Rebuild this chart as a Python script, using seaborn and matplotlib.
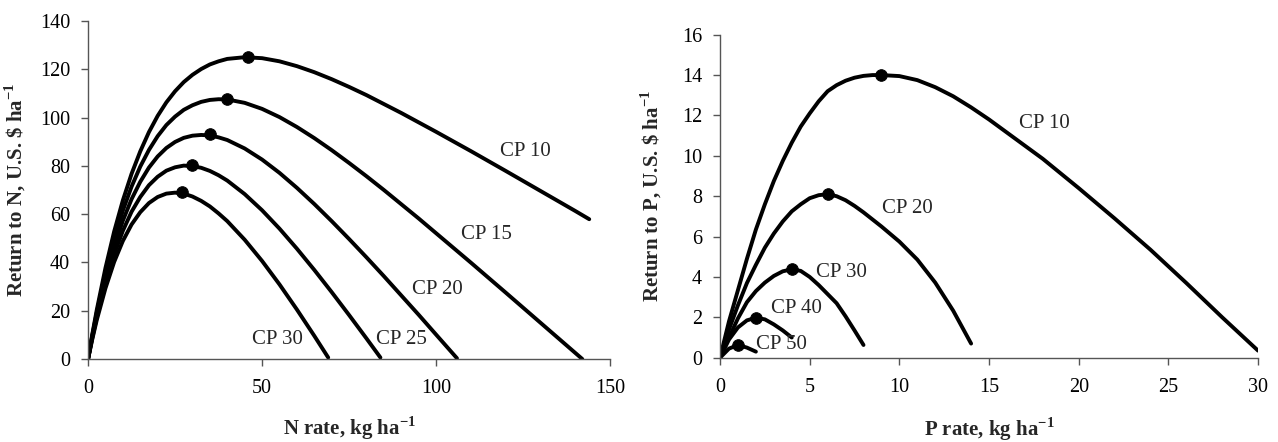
import matplotlib
matplotlib.use('Agg')
import matplotlib.pyplot as plt
import seaborn as sns
import pandas as pd

# N panel: return to N (U.S. $/ha) by N rate (kg/ha), one curve per CP
n_labels = ['CP 10', 'CP 15', 'CP 20', 'CP 25', 'CP 30']
n_rate = {
    'CP 10': [0, 1.25, 2.5, 5, 7.5, 10, 12.5, 15, 17.5, 20, 22.5, 25, 27.5, 30, 32.5, 35, 37.5, 40, 45, 50, 55, 60, 65, 70, 75, 80, 90, 100, 110, 120, 130, 140, 144],
    'CP 15': [0, 1.25, 2.5, 5, 7.5, 10, 12.5, 15, 17.5, 20, 22.5, 25, 27.5, 30, 32.5, 35, 37.5, 40, 45, 50, 55, 60, 65, 70, 75, 80, 85, 90, 95, 100, 110, 120, 130, 140, 142],
    'CP 20': [0, 1.25, 2.5, 5, 7.5, 10, 12.5, 15, 17.5, 20, 22.5, 25, 27.5, 30, 32.5, 35, 37.5, 40, 45, 50, 55, 60, 65, 70, 75, 80, 85, 90, 95, 100, 106],
    'CP 25': [0, 1.25, 2.5, 5, 7.5, 10, 12.5, 15, 17.5, 20, 22.5, 25, 27.5, 30, 32.5, 35, 37.5, 40, 45, 50, 55, 60, 65, 70, 75, 80, 84],
    'CP 30': [0, 1.25, 2.5, 5, 7.5, 10, 12.5, 15, 17.5, 20, 22.5, 25, 27.5, 30, 32.5, 35, 37.5, 40, 45, 50, 55, 60, 65, 69],
}
n_return = {
    'CP 10': [0, 10.5, 20.3, 37.7, 52.8, 65.7, 76.7, 86.0, 94.0, 100.7, 106.3, 110.9, 114.7, 117.7, 120.1, 122.0, 123.3, 124.3, 125.0, 124.6, 123.3, 121.3, 118.8, 115.9, 112.7, 109.3, 101.9, 94.1, 86.1, 77.9, 69.6, 61.3, 57.9],
    'CP 15': [0, 10.0, 19.2, 35.6, 49.6, 61.5, 71.4, 79.7, 86.6, 92.3, 96.9, 100.4, 103.2, 105.1, 106.5, 107.3, 107.6, 107.5, 106.1, 103.6, 100.2, 96.1, 91.5, 86.5, 81.2, 75.7, 70.0, 64.1, 58.2, 52.1, 39.9, 27.5, 15.0, 2.5, 0.0],
    'CP 20': [0, 9.5, 18.2, 33.5, 46.5, 57.3, 66.2, 73.4, 79.3, 83.9, 87.4, 89.9, 91.6, 92.5, 92.8, 92.6, 91.8, 90.7, 87.2, 82.6, 77.1, 70.9, 64.2, 57.1, 49.7, 42.1, 34.3, 26.3, 18.3, 10.1, 0.3],
    'CP 25': [0, 8.9, 17.2, 31.4, 43.4, 53.1, 61.0, 67.1, 72.0, 75.5, 78.0, 79.4, 80.1, 79.9, 79.2, 77.9, 76.1, 73.9, 68.3, 61.6, 54.0, 45.7, 36.9, 27.7, 18.2, 8.5, 0.6],
    'CP 30': [0, 8.4, 16.1, 29.3, 40.2, 48.9, 55.7, 60.8, 64.6, 67.1, 68.5, 68.9, 68.5, 67.3, 65.5, 63.2, 60.3, 57.1, 49.4, 40.6, 30.9, 20.5, 9.6, 0.6],
}
n_opt_rate = [46, 40, 35, 30, 27]
n_opt_return = [125, 107.5, 93, 80.5, 69]

# P panel: return to P (U.S. $/ha) by P rate (kg/ha)
p_labels = ['CP 10', 'CP 20', 'CP 30', 'CP 40', 'CP 50']
p_rate = {
    'CP 10': [0, 0.5, 1, 1.5, 2, 2.5, 3, 3.5, 4, 4.5, 5, 5.5, 6, 6.5, 7, 7.5, 8, 8.5, 9, 10, 11, 12, 13, 14, 15, 16, 18, 20, 22, 24, 26, 28, 30],
    'CP 20': [0, 0.5, 1, 1.5, 2, 2.5, 3, 3.5, 4, 4.5, 5, 5.5, 6, 6.5, 7, 7.5, 8, 9, 10, 11, 12, 13, 14],
    'CP 30': [0, 0.5, 1, 1.5, 2, 2.5, 3, 3.5, 4, 4.5, 5, 5.5, 6, 6.5, 7, 7.5, 8],
    'CP 40': [0, 0.5, 1, 1.5, 2, 2.5, 3, 3.5, 4],
    'CP 50': [0, 0.5, 1, 1.5, 2],
}
p_return = {
    'CP 10': [0, 1.8, 3.35, 4.9, 6.35, 7.6, 8.75, 9.75, 10.65, 11.45, 12.1, 12.7, 13.2, 13.5, 13.72, 13.87, 13.96, 14.0, 14.0, 13.95, 13.75, 13.4, 12.95, 12.4, 11.8, 11.15, 9.85, 8.4, 6.9, 5.35, 3.7, 2.0, 0.35],
    'CP 20': [0, 1.4, 2.6, 3.7, 4.6, 5.45, 6.15, 6.75, 7.25, 7.6, 7.9, 8.05, 8.1, 8.0, 7.8, 7.52, 7.2, 6.5, 5.75, 4.86, 3.72, 2.33, 0.7],
    'CP 30': [0, 1.0, 1.95, 2.75, 3.3, 3.72, 4.05, 4.28, 4.38, 4.3, 4.0, 3.6, 3.15, 2.7, 2.05, 1.35, 0.63],
    'CP 40': [0, 0.9, 1.5, 1.85, 1.98, 1.9, 1.65, 1.35, 1.0],
    'CP 50': [0, 0.45, 0.63, 0.5, 0.3],
}
p_opt_rate = [9, 6, 4, 2, 1]
p_opt_return = [14.0, 8.1, 4.38, 1.98, 0.63]


def long_df(rates, returns, labels):
    frames = [pd.DataFrame({'rate': rates[k], 'ret': returns[k], 'cp': k}) for k in labels]
    return pd.concat(frames, ignore_index=True)


sns.set_style('white')
plt.rcParams['font.family'] = ['Liberation Serif', 'DejaVu Serif']
plt.rcParams['mathtext.fontset'] = 'custom'
plt.rcParams['mathtext.rm'] = 'Liberation Serif'
plt.rcParams['mathtext.bf'] = 'Liberation Serif:bold'
plt.rcParams['lines.solid_joinstyle'] = 'round'
plt.rcParams['lines.solid_capstyle'] = 'round'

fig = plt.figure(figsize=(12.78, 4.42), dpi=100)
ax1 = fig.add_axes([0.0689, 0.1878, 0.4085, 0.7647])
ax2 = fig.add_axes([0.5634, 0.1907, 0.4210, 0.7308])

lw = 2.8
ms = 70
fs_tick = 14.5
fs_text = 15
fs_lab = 15

# N rate
df_n = long_df(n_rate, n_return, n_labels)
for k in n_labels:
    sns.lineplot(data=df_n[df_n.cp == k], x='rate', y='ret', ax=ax1, color='black',
                 linewidth=lw, sort=False, estimator=None)
sns.scatterplot(x=n_opt_rate, y=n_opt_return, ax=ax1, color='black', s=ms, zorder=5, edgecolor='black')
n_text = {'CP 10': (125.6, 86), 'CP 15': (114.6, 51.5), 'CP 20': (100.4, 28.7),
          'CP 25': (89.9, 8.0), 'CP 30': (54.5, 8.0)}
for k, (x, y) in n_text.items():
    ax1.text(x, y, k, ha='center', va='center', fontsize=fs_text)
ax1.set_xlim(0, 150)
ax1.set_ylim(0, 140)
ax1.set_xticks([0, 50, 100, 150])
ax1.set_yticks(range(0, 141, 20))
ax1.set_xlabel(r'N rate, kg ha$^{\mathbf{-1}}$', fontsize=fs_lab, fontweight='bold')
ax1.set_ylabel(r'Return to N, U.S. \$ ha$^{\mathbf{-1}}$', fontsize=fs_lab, fontweight='bold')
ax1.xaxis.set_label_coords(0.5, -0.165)
ax1.yaxis.set_label_coords(-0.115, 0.5)

# P rate
df_p = long_df(p_rate, p_return, p_labels)
for k in p_labels:
    sns.lineplot(data=df_p[df_p.cp == k], x='rate', y='ret', ax=ax2, color='black',
                 linewidth=lw, sort=False, estimator=None)
sns.scatterplot(x=p_opt_rate, y=p_opt_return, ax=ax2, color='black', s=ms, zorder=5, edgecolor='black')
p_text = {'CP 10': (18.07, 11.6), 'CP 20': (10.46, 7.4), 'CP 30': (6.79, 4.21),
          'CP 40': (4.28, 2.45), 'CP 50': (3.44, 0.63)}
for k, (x, y) in p_text.items():
    ax2.text(x, y, k, ha='center', va='center', fontsize=fs_text)
ax2.set_xlim(0, 30)
ax2.set_ylim(0, 16)
ax2.set_xticks(range(0, 31, 5))
ax2.set_yticks(range(0, 17, 2))
ax2.set_xlabel(r'P rate, kg ha$^{\mathbf{-1}}$', fontsize=fs_lab, fontweight='bold')
ax2.set_ylabel(r'Return to P, U.S. \$ ha$^{\mathbf{-1}}$', fontsize=fs_lab, fontweight='bold')
ax2.xaxis.set_label_coords(0.5, -0.18)
ax2.yaxis.set_label_coords(-0.105, 0.5)

for ax in (ax1, ax2):
    sns.despine(ax=ax)
    for s in ('left', 'bottom'):
        ax.spines[s].set_color('#555555')
        ax.spines[s].set_linewidth(1.0)
    ax.tick_params(axis='both', direction='out', length=5, width=1.0, color='#555555',
                   labelsize=fs_tick, labelcolor='black', bottom=True, left=True)
    ax.tick_params(axis='x', pad=9.5)
    ax.tick_params(axis='y', pad=8)
    ax.set_facecolor('white')

fig.savefig('out.png', dpi=100, facecolor='white')
